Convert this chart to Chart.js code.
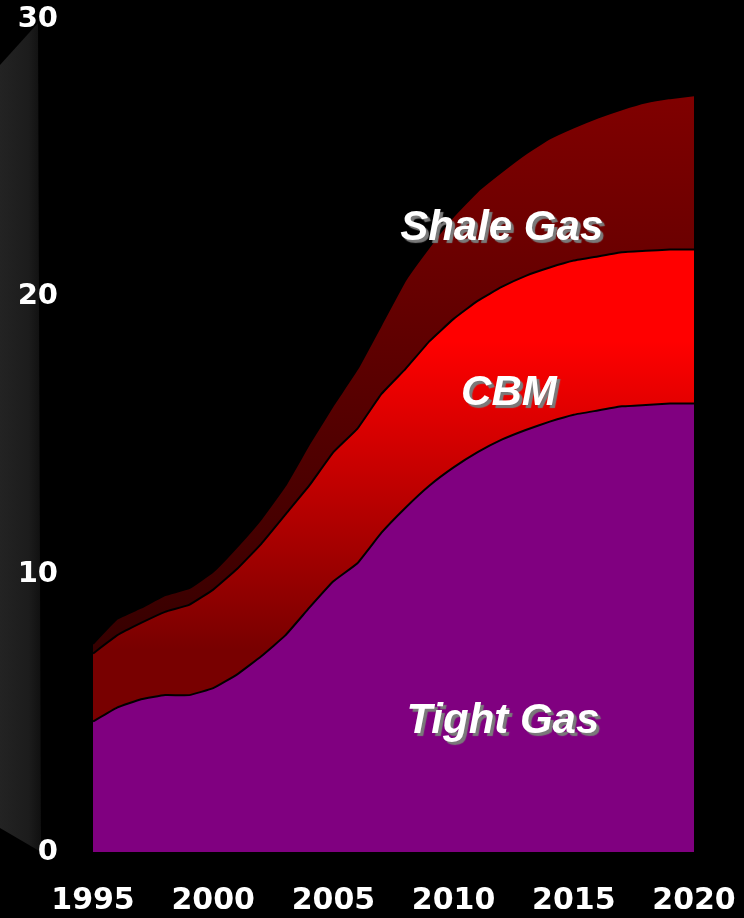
<!DOCTYPE html>
<html lang="en">
<head>
    <meta charset="UTF-8">
    <title>Unconventional Gas Production</title>
    <script src="https://cdn.jsdelivr.net/npm/chart.js"></script>
    <style>
        html, body { margin: 0; padding: 0; background: #000; }
        .chart-container { width: 744px; height: 918px; }
    </style>
</head>
<body>
    <div class="chart-container">
        <canvas id="gasChart"></canvas>
    </div>

    <script>
        const years = [1995, 1996, 1997, 1998, 1999, 2000, 2001, 2002, 2003, 2004, 2005, 2006, 2007,
                       2008, 2009, 2010, 2011, 2012, 2013, 2014, 2015, 2016, 2017, 2018, 2019, 2020];
        const tightGas = [4.7, 5.2, 5.5, 5.65, 5.65, 5.9, 6.4, 7.05, 7.8, 8.8, 9.75, 10.4, 11.5,
                          12.4, 13.2, 13.85, 14.4, 14.85, 15.2, 15.5, 15.75, 15.9, 16.05, 16.1, 16.15, 16.15];
        const cbm = [2.45, 2.6, 2.75, 3.0, 3.25, 3.55, 3.8, 4.05, 4.35, 4.4, 4.65, 4.85, 5.0,
                     5.0, 5.2, 5.35, 5.45, 5.5, 5.55, 5.55, 5.55, 5.55, 5.55, 5.55, 5.55, 5.55];
        const shaleGas = [0.35, 0.6, 0.55, 0.6, 0.6, 0.65, 0.8, 0.9, 1.05, 1.5, 1.7, 2.15, 2.5,
                          3.2, 3.4, 3.7, 3.95, 4.15, 4.4, 4.65, 4.8, 5.0, 5.15, 5.35, 5.45, 5.55];
        const yTicks = [0, 10, 20, 30];

        // area labels: [text, year, value at baseline]
        const areaLabels = [
            ['Shale Gas', 2012.0, 22.05],
            ['CBM', 2012.3, 16.1],
            ['Tight Gas', 2012.05, 4.3]
        ];

        // vertical gradient between two y values (top colour first)
        function verticalFill(topValue, topColor, bottomValue, bottomColor) {
            return (context) => {
                const chart = context.chart;
                if (!chart.chartArea) return bottomColor;
                const y = chart.scales.y;
                const g = chart.ctx.createLinearGradient(0, y.getPixelForValue(topValue), 0, y.getPixelForValue(bottomValue));
                g.addColorStop(0, topColor);
                g.addColorStop(1, bottomColor);
                return g;
            };
        }

        // grey side wall on the left and black background
        const backdrop = {
            id: 'backdrop',
            beforeDraw(chart) {
                const ctx = chart.ctx;
                const y = chart.scales.y;
                ctx.save();
                ctx.fillStyle = '#000';
                ctx.fillRect(0, 0, chart.width, chart.height);
                const g = ctx.createLinearGradient(0, 0, 41, 0);
                g.addColorStop(0, '#232323');
                g.addColorStop(0.7, '#1c1c1c');
                g.addColorStop(1, '#101010');
                ctx.fillStyle = g;
                ctx.beginPath();
                ctx.moveTo(0, 65);
                ctx.lineTo(38, y.getPixelForValue(30) + 4);
                ctx.lineTo(41, y.getPixelForValue(0));
                ctx.lineTo(0, y.getPixelForValue(0) - 24);
                ctx.closePath();
                ctx.fill();
                ctx.restore();
            }
        };

        const labelPlugin = {
            id: 'areaLabels',
            afterDatasetsDraw(chart) {
                const ctx = chart.ctx;
                const x = chart.scales.x;
                const y = chart.scales.y;
                ctx.save();
                ctx.font = 'italic bold 42px "Liberation Sans", Arial, sans-serif';
                ctx.textAlign = 'center';
                ctx.textBaseline = 'alphabetic';
                ctx.fillStyle = '#fff';
                ctx.shadowColor = '#7a7a7a';
                ctx.shadowOffsetX = 3;
                ctx.shadowOffsetY = 3;
                ctx.shadowBlur = 1;
                areaLabels.forEach(([text, yr, val]) => {
                    const px = x.getPixelForValue(years.indexOf(Math.floor(yr))) +
                        (yr - Math.floor(yr)) * (x.getPixelForValue(1) - x.getPixelForValue(0));
                    ctx.fillText(text, px, y.getPixelForValue(val));
                });
                ctx.restore();
            }
        };

        const ctx = document.getElementById('gasChart').getContext('2d');
        const gasChart = new Chart(ctx, {
            type: 'line',
            data: {
                labels: years,
                datasets: [
                    {
                        label: 'Tight Gas', data: tightGas, fill: 'origin',
                        backgroundColor: '#800080', borderColor: '#000', borderWidth: 2
                    },
                    {
                        label: 'CBM', data: cbm, fill: '-1',
                        backgroundColor: verticalFill(18.4, '#ff0000', 7.3, '#780000'),
                        borderColor: '#000', borderWidth: 2
                    },
                    {
                        label: 'Shale Gas', data: shaleGas, fill: '-1',
                        backgroundColor: verticalFill(27.3, '#800000', 7.3, '#360000'),
                        borderColor: '#000', borderWidth: 2
                    }
                ]
            },
            options: {
                responsive: true,
                maintainAspectRatio: false,
                animation: false,
                layout: { padding: { top: 19, right: 50, left: 0, bottom: 0 } },
                elements: { point: { radius: 0 }, line: { tension: 0.1 } },
                plugins: { legend: { display: false }, tooltip: { enabled: false } },
                scales: {
                    x: {
                        grid: { display: false, drawTicks: false },
                        border: { display: false },
                        ticks: {
                            autoSkip: false,
                            maxRotation: 0,
                            padding: 31,
                            color: '#fff',
                            font: { family: '"DejaVu Sans"', weight: 'bold', size: 30 },
                            callback: (v, i) => years[i] % 5 === 0 ? String(years[i]) : ''
                        },
                        afterFit: (scale) => {
                            scale.height = 66;
                            scale.paddingLeft = 0;
                            scale.paddingRight = 0;
                        }
                    },
                    y: {
                        stacked: true,
                        min: 0,
                        max: 30,
                        grid: { display: false, drawTicks: false },
                        border: { display: false },
                        afterBuildTicks: (scale) => { scale.ticks = yTicks.map(v => ({ value: v })); },
                        ticks: {
                            padding: 35,
                            color: '#fff',
                            font: { family: '"DejaVu Sans"', weight: 'bold', size: 29 }
                        },
                        afterFit: (scale) => {
                            scale.width = 93;
                            scale.paddingTop = 0;
                            scale.paddingBottom = 0;
                        }
                    }
                }
            },
            plugins: [backdrop, labelPlugin]
        });
    </script>
</body>
</html>
